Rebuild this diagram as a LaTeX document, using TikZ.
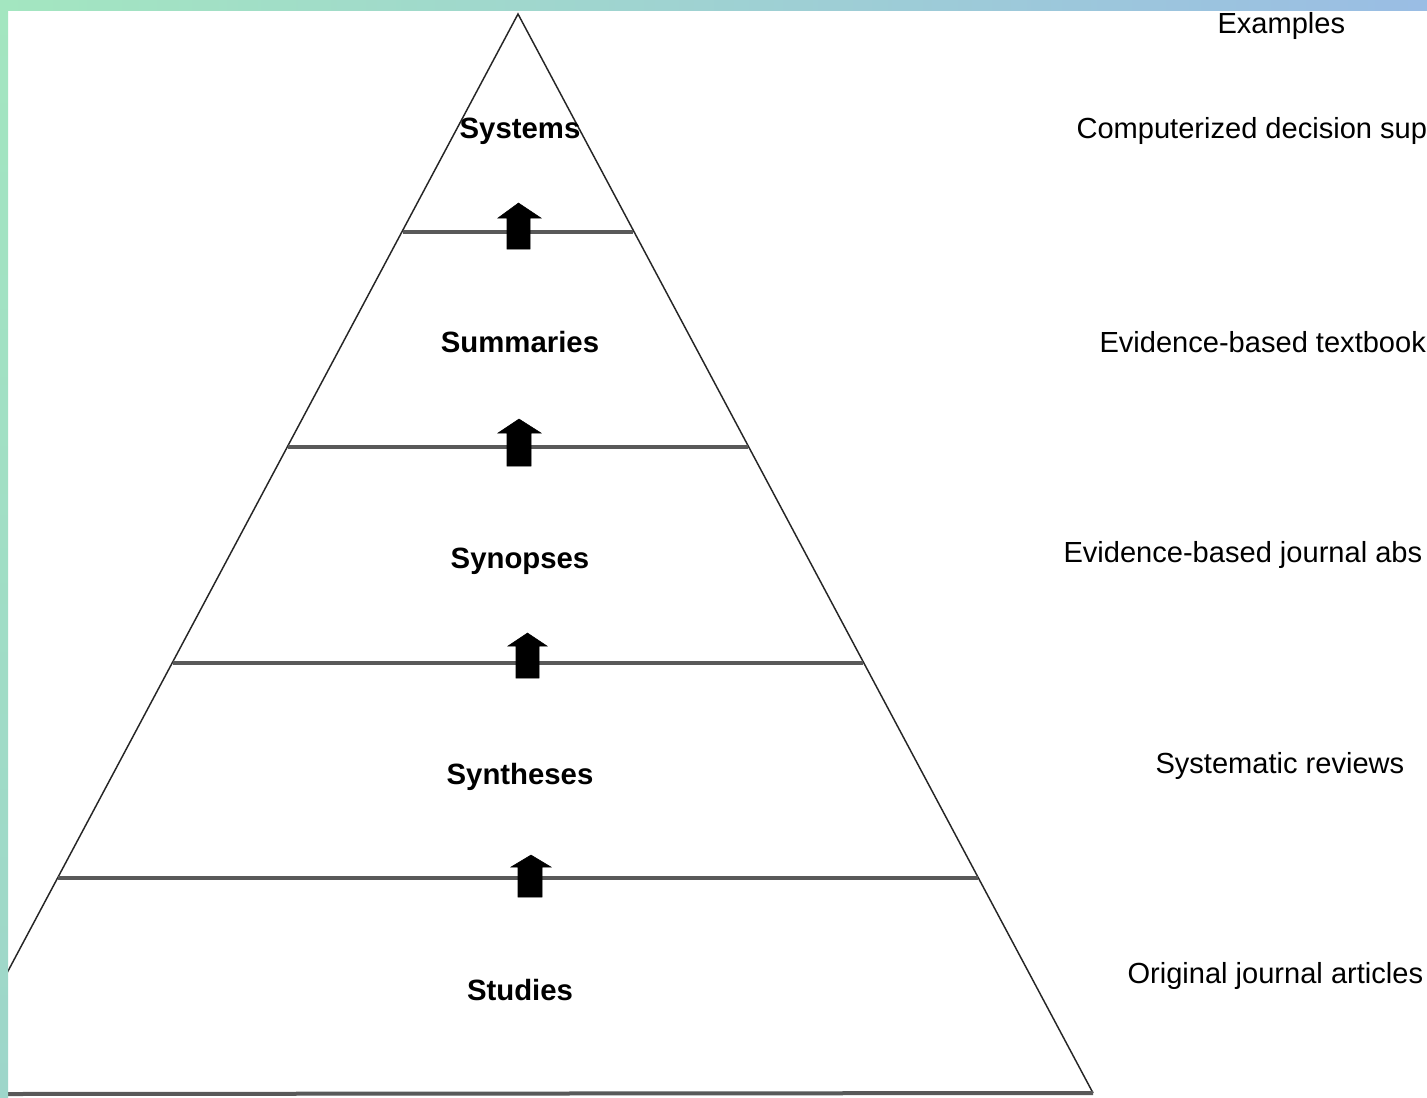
\documentclass[tikz,border=0pt]{standalone}
\usepackage{fontspec}
\setmainfont{Liberation Sans}

\definecolor{frameGreen}{RGB}{163,230,192}
\definecolor{frameBlue}{RGB}{154,189,228}
\definecolor{frameTeal}{RGB}{158,214,202}

\tikzset{every picture/.style={line width=0.75pt}}
\tikzset{
  side/.style={draw=black!85, line width=1.1pt},
  tier/.style={draw=black!65, line width=3pt},
  level/.style={font=\fontsize{22}{26}\selectfont\bfseries, inner sep=0pt, anchor=base},
  example/.style={font=\fontsize{21.8}{25}\selectfont, inner sep=0pt, anchor=base west},
  uparrow/.style={fill=black, draw=black, line width=0.4pt, line join=miter},
}

\begin{document}
\begin{tikzpicture}[x=0.75pt,y=0.75pt,yscale=-1,xscale=1]
\path[use as bounding box, clip] (0,0) rectangle (1427,1097);
\fill[white] (0,0) rectangle (1427,1097);

%Pyramid corners
\coordinate (apex) at (518,14);
\coordinate (baseL) at (-57,1093);
\coordinate (baseR) at (1093,1093);

%Pyramid sides
\draw[side] (baseL) -- (apex) -- (baseR);
%Base line
\draw[tier] (0,1094) -- (baseR);

%Tier lines
\draw[tier] (403,232) -- (633,232);
\draw[tier] (288,447) -- (748,447);
\draw[tier] (173,663) -- (863,663);
\draw[tier] (58,878) -- (978,878);

%Shape: Up Arrow
\draw[uparrow] (507,249) -- (507,218) -- (498,218) -- (518.5,203) -- (541,218) -- (530,218) -- (530,249) -- cycle;
%Shape: Up Arrow
\draw[uparrow] (507,466) -- (507,433) -- (498,433) -- (519,419) -- (541,433) -- (531,433) -- (531,466) -- cycle;
%Shape: Up Arrow
\draw[uparrow] (516,678) -- (516,646) -- (508,646) -- (527.5,633) -- (547,646) -- (539,646) -- (539,678) -- cycle;
%Shape: Up Arrow
\draw[uparrow] (518,897) -- (518,867) -- (511,867) -- (531,855) -- (551,867) -- (542,867) -- (542,897) -- cycle;

% Text Node
\node[level] (systems) at (520,138) {Systems};
% Text Node
\node[level] (summaries) at (520,352) {Summaries};
% Text Node
\node[level] (synopses) at (520,568) {Synopses};
% Text Node
\node[level] (syntheses) at (520,784) {Syntheses};
% Text Node
\node[level] (studies) at (520,1000) {Studies};

% Text Node
\node[example] (exhead) at (1217,33) {Examples};
% Text Node
\node[example] (exsystems) at (1076,138) {Computerized decision sup};
% Text Node
\node[example] (exsummaries) at (1099,352) {Evidence-based textbook};
% Text Node
\node[example] (exsynopses) at (1063,562) {Evidence-based journal abs};
% Text Node
\node[example] (exsyntheses) at (1155,773) {Systematic reviews};
% Text Node
\node[example] (exstudies) at (1127,983) {Original journal articles};

%Frame strips
\shade[left color=frameGreen, right color=frameBlue] (0,0) rectangle (1427,10);
\shade[top color=frameGreen, bottom color=frameTeal] (0,0) rectangle (8,1097);

\end{tikzpicture}
\end{document}
